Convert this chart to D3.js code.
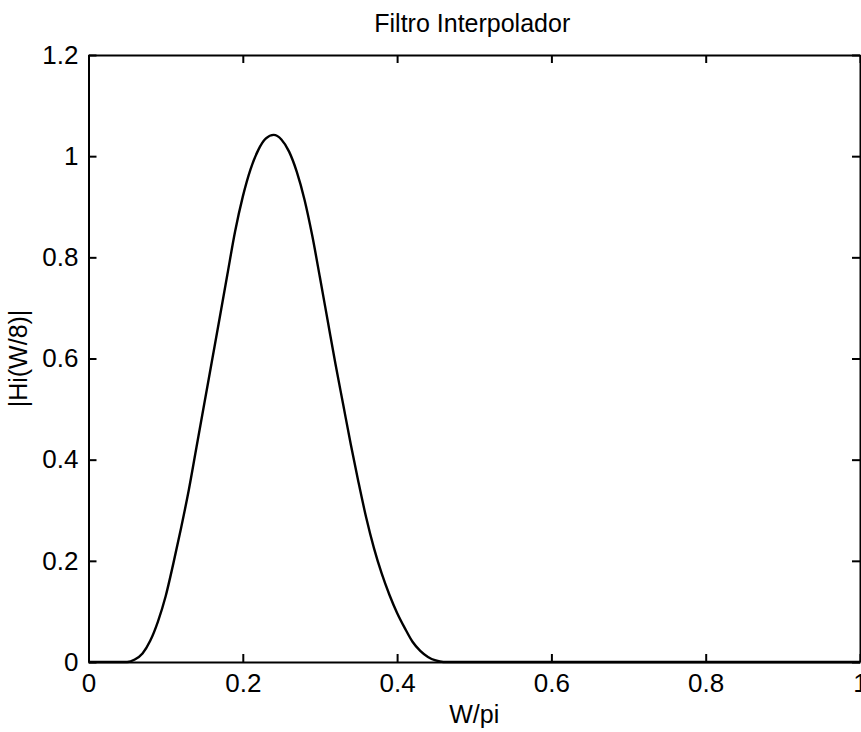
<!DOCTYPE html>
<html>
<head>
<meta charset="utf-8">
<script src="https://cdn.jsdelivr.net/npm/d3@7"></script>
<style>
  body { margin: 0; background: #fff; }
  svg { display: block; font-family: "Liberation Sans", Arial, sans-serif; }
  .axis path, .axis line { stroke: #000; stroke-width: 2; }
  .axis text { font-size: 26px; fill: #000; }
</style>
</head>
<body>
<svg id="chart" width="861" height="732"></svg>
<script>
// frequency (W/pi) and magnitude |Hi(W/8)|
let freq = [0, 0.04, 0.05, 0.06, 0.07, 0.08, 0.09, 0.10, 0.11, 0.12, 0.13, 0.14, 0.15, 0.16, 0.17, 0.18,
    0.19, 0.20, 0.21, 0.22, 0.23, 0.24, 0.25, 0.26, 0.27, 0.28, 0.29, 0.30, 0.31, 0.32, 0.33, 0.34,
    0.35, 0.36, 0.37, 0.38, 0.39, 0.40, 0.41, 0.42, 0.43, 0.44, 0.45, 0.46, 1.0];
let mag = [0, 0, 0, 0.005, 0.017, 0.042, 0.08, 0.13, 0.195, 0.265, 0.34, 0.425, 0.51, 0.595, 0.68, 0.766,
    0.851, 0.92, 0.974, 1.012, 1.035, 1.042, 1.033, 1.009, 0.969, 0.914, 0.843, 0.76, 0.675, 0.59, 0.51, 0.43,
    0.355, 0.285, 0.225, 0.175, 0.133, 0.097, 0.067, 0.04, 0.022, 0.01, 0.003, 0, 0];

let xTicks = [0, 0.2, 0.4, 0.6, 0.8, 1];
let yTicks = [0, 0.2, 0.4, 0.6, 0.8, 1, 1.2];

let TITLE = "Filtro Interpolador";
let X_LABEL = "W/pi";
let Y_LABEL = "|Hi(W/8)|";

function draw() {
    const svg = d3.select("#chart");
    const x = d3.scaleLinear().domain([0, 1]).range([88.5, 860]);
    const y = d3.scaleLinear().domain([0, 1.2]).range([662, 55]);

    const fmt = d => d === 0 ? "0" : String(d);

    svg.append("g").attr("class", "axis")
        .attr("transform", "translate(0," + y(0) + ")")
        .call(d3.axisBottom(x).tickValues(xTicks).tickFormat(fmt).tickSize(-8).tickSizeOuter(0).tickPadding(12));
    svg.append("g").attr("class", "axis")
        .attr("transform", "translate(0," + y(1.2) + ")")
        .call(d3.axisTop(x).tickValues(xTicks).tickFormat("").tickSize(-8).tickSizeOuter(0));
    svg.append("g").attr("class", "axis")
        .attr("transform", "translate(" + x(0) + ",0)")
        .call(d3.axisLeft(y).tickValues(yTicks).tickFormat(fmt).tickSize(-8).tickSizeOuter(0).tickPadding(10));
    svg.append("g").attr("class", "axis")
        .attr("transform", "translate(" + x(1) + ",0)")
        .call(d3.axisRight(y).tickValues(yTicks).tickFormat("").tickSize(-8).tickSizeOuter(0));

    const pts = freq.map((f, i) => [f, mag[i]]);
    const line = d3.line().x(d => x(d[0])).y(d => y(d[1])).curve(d3.curveMonotoneX);
    svg.append("path")
        .datum(pts)
        .attr("d", line)
        .attr("fill", "none")
        .attr("stroke", "#000")
        .attr("stroke-width", 2.4);

    const cx = (x(0) + x(1)) / 2;
    svg.append("text")
        .attr("x", cx - 2).attr("y", 32)
        .attr("text-anchor", "middle")
        .style("font-size", "25px")
        .text(TITLE);
    svg.append("text")
        .attr("x", cx).attr("y", 723)
        .attr("text-anchor", "middle")
        .style("font-size", "25px")
        .text(X_LABEL);
    svg.append("text")
        .attr("transform", "translate(27," + (y(0) + y(1.2)) / 2 + ") rotate(-90)")
        .attr("text-anchor", "middle")
        .style("font-size", "25px")
        .text(Y_LABEL);
}

window.onload = function () {
    draw();
};
</script>
</body>
</html>
